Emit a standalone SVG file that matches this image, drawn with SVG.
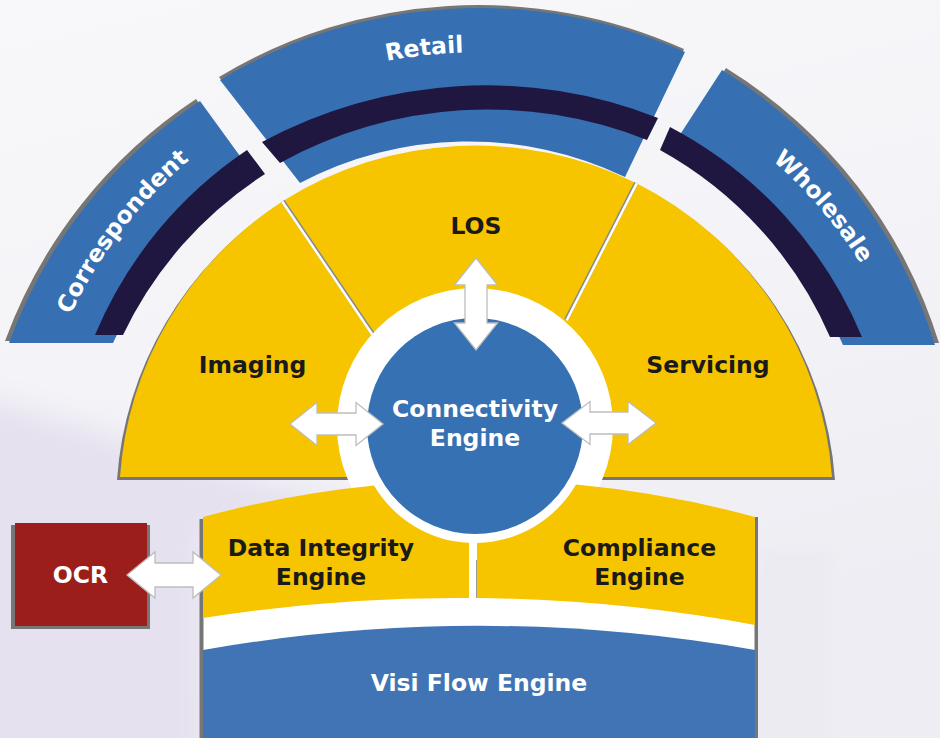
<svg xmlns="http://www.w3.org/2000/svg" width="940" height="738" viewBox="0 0 940 738">
<defs>
<linearGradient id="bg" x1="0" y1="0" x2="0.3" y2="1">
<stop offset="0" stop-color="#F8F8FA"/>
<stop offset="0.5" stop-color="#F4F3F7"/>
<stop offset="1" stop-color="#EEEDF3"/>
</linearGradient>
<filter id="blur" x="-30%" y="-30%" width="160%" height="160%"><feGaussianBlur stdDeviation="14"/></filter>
<filter id="blur2" x="-30%" y="-30%" width="160%" height="160%"><feGaussianBlur stdDeviation="6"/></filter>
<path id="pc" d="M 35.8,425.4 A 448 448 0 0 1 287.1,97.9"/>
<path id="pr" d="M 207.7,140.4 A 453 453 0 0 1 655.8,89.4"/>
<path id="pw" d="M 645.7,83 A 453 453 0 0 1 917.4,401.1"/>
</defs>
<style>
.blue{fill:#3670B2}
.dark{fill:#1F1740}
.yel{fill:#F7C400}
.sh{fill:#767676}
.lbl{font-family:"DejaVu Sans",Verdana,sans-serif;font-weight:bold;font-size:23.5px;text-anchor:middle}
.w{fill:#FFFFFF}
.k{fill:#1A1A1A}
.arr{fill:#FFFFFF;stroke:#BDBDBD;stroke-width:1.3}
</style>

<g id="background">
<rect x="0" y="0" width="940" height="738" fill="url(#bg)"/>
<polygon points="-40,390 340,505 340,530 203,530 203,780 -40,780" fill="#E5E1EF" filter="url(#blur)"/>
<rect x="757" y="548" width="75" height="200" fill="#ECEBF2" filter="url(#blur2)"/>
</g>

<g id="correspondent">
<path class="sh" transform="translate(-4,-2)" d="M 9,343 A 494 494 0 0 1 200,101 L 253,174 A 397 397 0 0 0 113,343 Z"/>
<path class="blue" d="M 9,343 A 494 494 0 0 1 200,101 L 253,174 A 397 397 0 0 0 113,343 Z"/>
<path class="dark" d="M 95,335 A 416 416 0 0 1 247,150 L 265,174 A 391 391 0 0 0 123,335 Z"/>
<text class="lbl w"><textPath href="#pc" startOffset="50%">Correspondent</textPath></text>
</g>

<g id="retail">
<path class="sh" transform="translate(-1,-3)" d="M 220,80 A 503 503 0 0 1 685,52 L 625,177 A 362 362 0 0 0 300,183 Z"/>
<path class="blue" d="M 220,80 A 503 503 0 0 1 685,52 L 625,177 A 362 362 0 0 0 300,183 Z"/>
<path class="dark" d="M 262,142 A 470 470 0 0 1 658,118 L 647,140 A 430 430 0 0 0 280,163 Z"/>
<text class="lbl w"><textPath href="#pr" startOffset="50%">Retail</textPath></text>
</g>

<g id="wholesale">
<path class="sh" transform="translate(4,-2)" d="M 722,70 A 494 494 0 0 1 935,345 L 843,345 A 400 400 0 0 0 670,150 Z"/>
<path class="blue" d="M 722,70 A 494 494 0 0 1 935,345 L 843,345 A 400 400 0 0 0 670,150 Z"/>
<path class="dark" d="M 670,127 A 420 420 0 0 1 862,337 L 830,337 A 392 392 0 0 0 660,150 Z"/>
<text class="lbl w"><textPath href="#pw" startOffset="50%">Wholesale</textPath></text>
</g>

<g id="imaging">
<path class="sh" transform="translate(-3,3)" d="M 120,477 A 357 357 0 0 1 283,201 L 380,344 L 475,426 L 475,477 Z"/>
<path class="yel" d="M 120,477 A 357 357 0 0 1 283,201 L 380,344 L 475,426 L 475,477 Z"/>
<text class="lbl k" x="252.5" y="373">Imaging</text>
</g>

<g id="servicing">
<path class="sh" transform="translate(3,3)" d="M 636,183 A 357 357 0 0 1 832,477 L 475,477 L 475,426 L 560,331 Z"/>
<path class="yel" d="M 636,183 A 357 357 0 0 1 832,477 L 475,477 L 475,426 L 560,331 Z"/>
<text class="lbl k" x="708" y="373">Servicing</text>
</g>

<g id="los">
<path class="yel" d="M 283,201 A 362 362 0 0 1 636,183 L 560,331 L 475,426 L 380,344 Z"/>
<line x1="283" y1="201" x2="373" y2="334" stroke="#8A8A8A" stroke-width="4"/>
<line x1="282.3" y1="201.5" x2="372.3" y2="334.5" stroke="#FFFFFF" stroke-width="2.5"/>
<line x1="636" y1="183" x2="566" y2="320" stroke="#8A8A8A" stroke-width="4"/>
<line x1="636.7" y1="183.4" x2="566.7" y2="320.4" stroke="#FFFFFF" stroke-width="2.5"/>
<text class="lbl k" x="476" y="234">LOS</text>
</g>

<g id="connectivity-engine">
<circle cx="475" cy="426" r="138" fill="#FFFFFF"/>
<circle cx="475" cy="426" r="108" fill="#3571B3"/>
<text class="lbl w" x="475" y="417">Connectivity</text>
<text class="lbl w" x="475" y="446">Engine</text>
</g>

<g id="lower-base">
<rect x="203" y="585" width="552" height="75" fill="#FFFFFF"/>
<rect x="466" y="535" width="12" height="65" fill="#FFFFFF"/>
<rect x="199.5" y="519" width="4" height="219" class="sh"/>
<rect x="754.5" y="517" width="3.5" height="221" class="sh"/>
<line x1="476.6" y1="560" x2="476.6" y2="598" stroke="#9A9A9A" stroke-width="1.2"/>
</g>

<g id="data-integrity-engine">
<path class="yel" d="M 203,517 A 1048 1048 0 0 1 374,485.5 A 117 117 0 0 0 469,542.8 L 469,598 A 1600 1600 0 0 0 203,618 Z"/>
<text class="lbl k" x="321" y="556">Data Integrity</text>
<text class="lbl k" x="321" y="585">Engine</text>
</g>

<g id="compliance-engine">
<path class="yel" d="M 477,543 A 117 117 0 0 0 576,484.5 A 1048 1048 0 0 1 755,517 L 755,625 A 1600 1600 0 0 0 477,598 Z"/>
<text class="lbl k" x="639.5" y="556">Compliance</text>
<text class="lbl k" x="639.5" y="585">Engine</text>
</g>

<g id="visi-flow-engine">
<path fill="#4174B4" d="M 203,650 A 1600 1600 0 0 1 755,650 L 755,738 L 203,738 Z"/>
<text class="lbl w" x="479" y="691">Visi Flow Engine</text>
</g>

<g id="ocr">
<rect x="11" y="525" width="139" height="104" class="sh"/>
<rect x="15" y="523" width="132" height="103" fill="#9C1E1B"/>
<text class="lbl w" x="80.5" y="583">OCR</text>
</g>

<g id="connectors">
<path class="arr" d="M 127,575 L 155,552 L 155,563 L 193,563 L 193,552 L 221,575 L 193,598 L 193,587 L 155,587 L 155,598 Z"/>
<path class="arr" d="M 290,424 L 317,402.5 L 317,413 L 356,413 L 356,402.5 L 383,424 L 356,445.5 L 356,435 L 317,435 L 317,445.5 Z"/>
<path class="arr" d="M 562,423 L 590,401.5 L 590,412 L 628,412 L 628,401.5 L 656,423 L 628,444.5 L 628,434 L 590,434 L 590,444.5 Z"/>
<path class="arr" d="M 476,258 L 497.5,285 L 487,285 L 487,323 L 497.5,323 L 476,350 L 454.5,323 L 465,323 L 465,285 L 454.5,285 Z"/>
</g>
</svg>
